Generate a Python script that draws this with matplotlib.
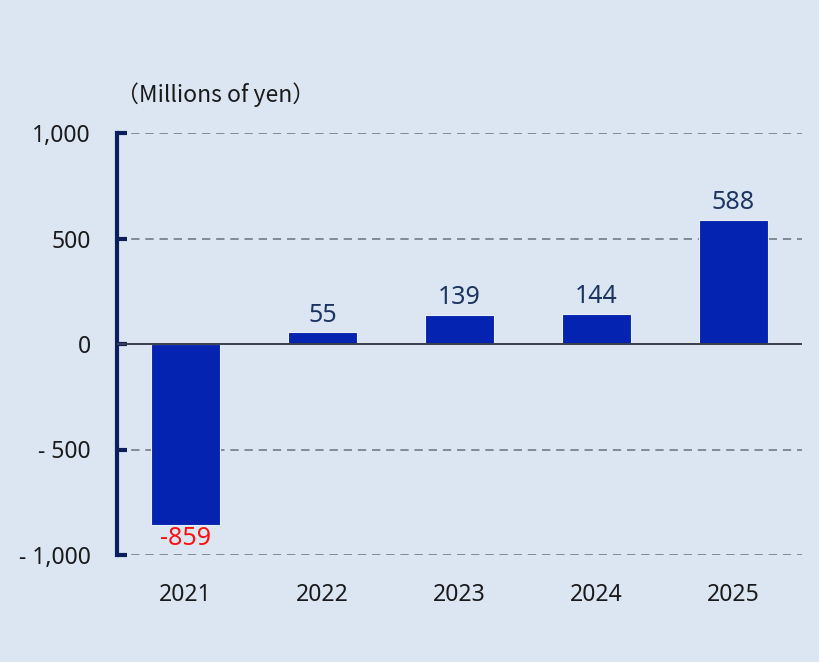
import matplotlib
matplotlib.use("Agg")
import matplotlib.pyplot as plt

years = ["2021", "2022", "2023", "2024", "2025"]
values = [-859, 55, 139, 144, 588]
yticks = [-1000, -500, 0, 500, 1000]
ytick_labels = ["- 1,000", "- 500", "0", "500", "1,000"]
unit_label = "（Millions of yen）"

BG = "#dce6f2"
BAR = "#0323b0"
NAVY = "#0c1f5c"
LABEL = "#1b3461"

plt.rcParams['font.family'] = ['Noto Sans', 'DejaVu Sans']

fig = plt.figure(figsize=(8.2, 6.62), dpi=100, facecolor=BG)
ax = fig.add_axes([117/820, 1-555/662, (802-117)/820, (555-133)/662])
ax.set_facecolor(BG)

x = list(range(len(years)))
ax.bar(x, values, width=0.5, color=BAR, edgecolor="#e8eef8", linewidth=0.8, zorder=3)

ax.set_xlim(-0.5, 4.5)
ax.set_ylim(-1000, 1000)

for v in yticks:
    if v == 0:
        ax.axhline(0, color="#3a3f4a", linewidth=1.4, zorder=4)
    else:
        ax.axhline(v, color="#737a84", linewidth=1.2, linestyle=(0, (5, 3.5)), zorder=1)

for xi, v in zip(x, values):
    if v >= 0:
        ax.text(xi, v + 22, f"{v}", ha="center", va="bottom", fontsize=18, color=LABEL, zorder=5)
    else:
        ax.text(xi, v - 5, f"{v}", ha="center", va="top", fontsize=18, color="#ff1010", zorder=5)

ax.set_yticks(yticks)
ax.set_yticklabels(ytick_labels, fontsize=16.5, color="#1a1a1a")
ax.set_xticks(x)
ax.set_xticklabels(years, fontsize=16.5, color="#1a1a1a")
ax.tick_params(axis="y", direction="in", length=7, width=3, color=NAVY, pad=19)
ax.tick_params(axis="x", length=0, pad=20)

for s in ["top", "right", "bottom"]:
    ax.spines[s].set_visible(False)
ax.spines["left"].set_color(NAVY)
ax.spines["left"].set_linewidth(3)

fig.text(116/820, 1-95/662, unit_label, fontsize=16.5, color="#1a1a1a",
         family=['Noto Sans CJK JP', 'DejaVu Sans'], ha="left", va="center")

fig.savefig("out.png", dpi=100, facecolor=BG)
